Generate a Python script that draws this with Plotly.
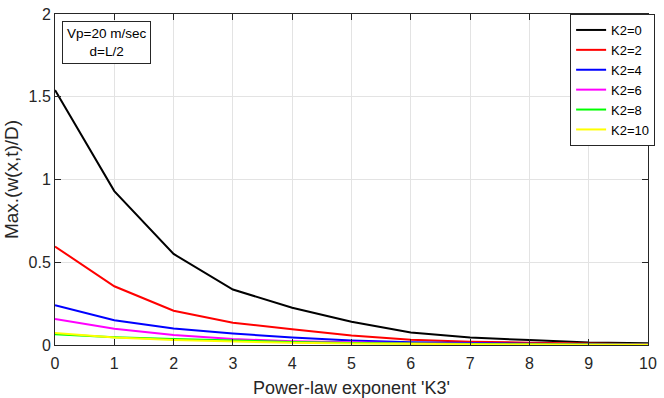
import plotly.graph_objects as go

k3 = [0, 1, 2, 3, 4, 5, 6, 7, 8, 9, 10]
k2_0 = [1.54, 0.93, 0.55, 0.335, 0.225, 0.14, 0.075, 0.045, 0.03, 0.015, 0.01]
k2_2 = [0.595, 0.355, 0.207, 0.135, 0.095, 0.058, 0.032, 0.02, 0.014, 0.009, 0.005]
k2_4 = [0.24, 0.15, 0.10, 0.07, 0.045, 0.027, 0.016, 0.01, 0.007, 0.005, 0.003]
k2_6 = [0.157, 0.098, 0.06, 0.036, 0.023, 0.015, 0.01, 0.007, 0.005, 0.003, 0.002]
k2_8 = [0.065, 0.047, 0.036, 0.026, 0.018, 0.012, 0.008, 0.005, 0.004, 0.003, 0.002]
k2_10 = [0.072, 0.045, 0.03, 0.02, 0.013, 0.009, 0.006, 0.004, 0.003, 0.002, 0.001]

series = [
    ("K2=0", k2_0, "#000000"),
    ("K2=2", k2_2, "#ff0000"),
    ("K2=4", k2_4, "#0000ff"),
    ("K2=6", k2_6, "#ff00ff"),
    ("K2=8", k2_8, "#00ff00"),
    ("K2=10", k2_10, "#ffff00"),
]

fig = go.Figure()
for name, y, c in series:
    fig.add_trace(go.Scatter(x=k3, y=y, mode="lines", name=name,
                             line=dict(color=c, width=2)))

axis_common = dict(
    showline=True, linecolor="#262626", linewidth=1, mirror="allticks",
    ticks="inside", ticklen=6, tickcolor="#262626", automargin=False,
    showgrid=True, gridcolor="#e3e3e3", gridwidth=1, zeroline=False,
    tickfont=dict(family="Liberation Sans, Arial", size=16, color="#262626"),
)

fig.update_layout(
    width=664, height=398,
    margin=dict(l=55, r=9, t=14, b=53),
    plot_bgcolor="white", paper_bgcolor="white",
    font=dict(family="Liberation Sans, Arial", color="#262626"),
    xaxis=dict(range=[0, 10], dtick=1, ticklabelstandoff=4,
               title=dict(text="Power-law exponent 'K3'", font=dict(size=18), standoff=12),
               **axis_common),
    yaxis=dict(range=[0, 2], dtick=0.5,
               title=dict(text="Max.(w(x,t)/D)", font=dict(size=19), standoff=4),
               **axis_common),
    legend=dict(x=1.012, y=1.0, xanchor="right", yanchor="top",
                bgcolor="white", bordercolor="#262626", borderwidth=1,
                font=dict(size=13, color="#000000"),
                tracegroupgap=0, itemwidth=30),
    showlegend=True,
    annotations=[dict(
        text="Vp=20 m/sec<br>d=L/2", x=0.012, y=0.98, xref="paper", yref="paper",
        xanchor="left", yanchor="top", showarrow=False, align="center",
        font=dict(size=13.5, color="#000000"),
        bordercolor="#262626", borderwidth=1, borderpad=4, bgcolor="white",
    )],
)

fig.write_html("out.html")
